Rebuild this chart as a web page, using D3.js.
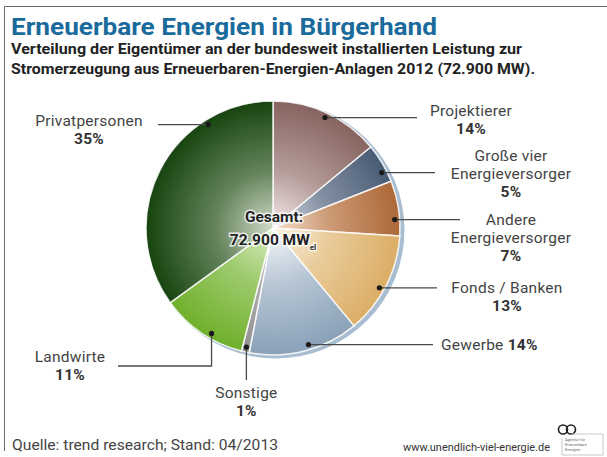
<!DOCTYPE html>
<html>
<head>
<meta charset="utf-8">
<script src="https://cdn.jsdelivr.net/npm/d3@7"></script>
<style>
  body { margin: 0; background: #fff; }
  svg { display: block; font-family: Roboto, "DejaVu Sans", sans-serif; }
</style>
</head>
<body>
<div id="chart"></div>
<script>
// data, clockwise from 12 o'clock
const categories = [`Projektierer`, `Große vier Energieversorger`, `Andere Energieversorger`, `Fonds / Banken`, `Gewerbe`, `Sonstige`, `Landwirte`, `Privatpersonen`];
const shares = [14, 5, 7, 13, 14, 1, 11, 35];
const labelLines = [[`Projektierer`], [`Große vier`, `Energieversorger`], [`Andere`, `Energieversorger`], [`Fonds / Banken`], [`Gewerbe`], [`Sonstige`], [`Landwirte`], [`Privatpersonen`]];
const totalLines = [`Gesamt:`, `72.900 MW`];

const edgeColors = [`#86635f`, `#485b74`, `#ad6838`, `#dcae66`, `#8aa1b8`, `#8f8f8f`, `#70b02c`, `#17440f`];
const centerColors = [`#f6ecec`, `#d4dae4`, `#f6e0cc`, `#fcf4e2`, `#f6f8fb`, `#d8d8d8`, `#dcedc4`, `#d0dcc8`];

const width = 607;
const height = 457;
const cx = 273;
const cy = 228;
const radius = 127;
const rDot = 122;

// where the leader line sits inside each slice (0..1) and where its label goes
const dotFrac = [0.5, 0.7, 0.7, 0.55, 0.45, 0.5, 0.4, 0.746];
const labelLayout = [
  {type: `h`, endX: 417, textX: 471, dy: -2},
  {type: `h`, endX: 435, textX: 511, dy: -12},
  {type: `h`, endX: 460, textX: 511, dy: 5},
  {type: `h`, endX: 437, textX: 507, dy: 5},
  {type: `inline`, endX: 433, textX: 441, dy: 5},
  {type: `down`, endY: 380, dy: 18},
  {type: `elbow`, endY: 366, endX: 118, textX: 70, dy: -4},
  {type: `h`, endX: 158, textX: 89, dy: 1},
];
const lineHeight = 18;

const svg = d3.select(`#chart`).append(`svg`)
  .attr(`width`, width)
  .attr(`height`, height);

// frame
svg.append(`path`)
  .attr(`d`, `M4.5,451 V6.5 H${width}`)
  .attr(`fill`, `none`)
  .attr(`stroke`, `#6a6a6a`)
  .attr(`stroke-width`, 1);

// title + subtitle
const fitText = (sel, w) => sel.attr(`textLength`, w).attr(`lengthAdjust`, `spacingAndGlyphs`);

svg.append(`text`)
  .attr(`x`, 11).attr(`y`, 35)
  .attr(`font-size`, 24).attr(`font-weight`, 700)
  .attr(`fill`, `#1a6b9c`)
  .text(`Erneuerbare Energien in Bürgerhand`)
  .call(fitText, 426);

const subtitle = [`Verteilung der Eigentümer an der bundesweit installierten Leistung zur`, `Stromerzeugung aus Erneuerbaren-Energien-Anlagen 2012 (72.900 MW).`];
const subtitleWidths = [511, 524];
subtitle.forEach((t, i) => {
  svg.append(`text`)
    .attr(`x`, 11).attr(`y`, 54 + i * 19.5)
    .attr(`font-size`, 14.5).attr(`font-weight`, 700)
    .attr(`fill`, `#222`)
    .text(t)
    .call(fitText, subtitleWidths[i]);
});

const defs = svg.append(`defs`);
const g = svg.append(`g`).attr(`transform`, `translate(${cx},${cy})`);

// pale blue rim behind the pie
g.append(`circle`)
  .attr(`cx`, 3).attr(`cy`, 2)
  .attr(`r`, radius + 1.5)
  .attr(`fill`, `#a9bdd1`);

const pie = d3.pie().sort(null).value(d => d);
const arcs = pie(shares);
const arc = d3.arc().innerRadius(0).outerRadius(radius);

arcs.forEach((a, i) => {
  const grad = defs.append(`radialGradient`)
    .attr(`id`, `grad${i}`)
    .attr(`gradientUnits`, `userSpaceOnUse`)
    .attr(`cx`, 0).attr(`cy`, 0).attr(`r`, radius);
  grad.append(`stop`).attr(`offset`, 0).attr(`stop-color`, centerColors[i]);
  grad.append(`stop`).attr(`offset`, 0.45).attr(`stop-color`, d3.interpolateRgb(centerColors[i], edgeColors[i])(0.58));
  grad.append(`stop`).attr(`offset`, 1).attr(`stop-color`, edgeColors[i]);
});

g.selectAll(`path.slice`)
  .data(arcs)
  .enter().append(`path`)
    .attr(`class`, `slice`)
    .attr(`d`, arc)
    .attr(`fill`, (d, i) => `url(#grad${i})`)
    .attr(`stroke`, `rgba(255,255,255,0.85)`)
    .attr(`stroke-width`, 1.5);

// centre text
const centerText = g.append(`text`)
  .attr(`text-anchor`, `middle`)
  .attr(`font-weight`, 700)
  .attr(`font-size`, 15.5)
  .attr(`fill`, `#222`)
  .attr(`stroke`, `rgba(255,255,255,0.8)`)
  .attr(`stroke-width`, 3)
  .attr(`paint-order`, `stroke`);
centerText.append(`tspan`).attr(`x`, 1).attr(`y`, -6).text(totalLines[0]);
centerText.append(`tspan`).attr(`x`, 0).attr(`y`, 17).text(totalLines[1]);
centerText.append(`tspan`).attr(`dy`, 5).attr(`font-size`, 8).text(`el`);

// leader lines, dots and labels
const labels = svg.append(`g`);
arcs.forEach((a, i) => {
  const ang = a.startAngle + (a.endAngle - a.startAngle) * dotFrac[i];
  const dx = cx + rDot * Math.sin(ang);
  const dy = cy - rDot * Math.cos(ang);
  const lay = labelLayout[i];
  let path;
  let tx;
  let ty;
  let anchor = `middle`;
  if (lay.type === `down`) {
    path = `M${dx},${dy} V${lay.endY}`;
    tx = dx;
    ty = lay.endY + lay.dy;
  } else if (lay.type === `elbow`) {
    path = `M${dx},${dy} V${lay.endY} H${lay.endX}`;
    tx = lay.textX;
    ty = lay.endY + lay.dy;
  } else {
    path = `M${dx},${dy} H${lay.endX}`;
    tx = lay.textX;
    ty = dy + lay.dy;
    if (lay.type === `inline`) anchor = `start`;
  }

  labels.append(`path`)
    .attr(`d`, path)
    .attr(`fill`, `none`)
    .attr(`stroke`, `#4a4a4a`)
    .attr(`stroke-width`, 1.3);
  labels.append(`circle`)
    .attr(`cx`, dx).attr(`cy`, dy)
    .attr(`r`, 2.6)
    .attr(`fill`, `#1a1a1a`);

  const t = labels.append(`text`)
    .attr(`text-anchor`, anchor)
    .attr(`font-size`, 15.5)
    .attr(`letter-spacing`, 0.25)
    .attr(`fill`, `#444`);
  labelLines[i].forEach((line, k) => {
    t.append(`tspan`).attr(`x`, tx).attr(`y`, ty + k * lineHeight).text(line);
  });
  if (lay.type === `inline`) {
    t.append(`tspan`).attr(`font-weight`, 700).attr(`fill`, `#333`).text(` ${shares[i]}%`);
  } else {
    t.append(`tspan`)
      .attr(`x`, tx).attr(`y`, ty + labelLines[i].length * lineHeight)
      .attr(`font-weight`, 700).attr(`fill`, `#333`)
      .text(`${shares[i]}%`);
  }
});

// footer
svg.append(`text`)
  .attr(`x`, 12).attr(`y`, 450)
  .attr(`font-size`, 14.5)
  .attr(`fill`, `#444`)
  .text(`Quelle: trend research; Stand: 04/2013`)
  .call(fitText, 266);

svg.append(`text`)
  .attr(`x`, 403).attr(`y`, 451)
  .attr(`font-size`, 11.5)
  .attr(`fill`, `#333`)
  .text(`www.unendlich-viel-energie.de`)
  .call(fitText, 147);

// small agency logo
const logo = svg.append(`g`).attr(`transform`, `translate(558,424)`);
logo.append(`circle`).attr(`cx`, 5).attr(`cy`, 5.5).attr(`r`, 4.5).attr(`fill`, `none`).attr(`stroke`, `#222`).attr(`stroke-width`, 1.6);
logo.append(`circle`).attr(`cx`, 13).attr(`cy`, 5.5).attr(`r`, 4.5).attr(`fill`, `none`).attr(`stroke`, `#222`).attr(`stroke-width`, 1.6);
logo.append(`path`).attr(`d`, `M13,10 H45 V31 H4 V14`).attr(`fill`, `none`).attr(`stroke`, `#bbb`).attr(`stroke-width`, 0.8);
[`Agentur für`, `Erneuerbare`, `Energien`].forEach((s, i) => {
  logo.append(`text`).attr(`x`, 7).attr(`y`, 17 + i * 5).attr(`font-size`, 4).attr(`fill`, `#666`).text(s);
});
</script>
</body>
</html>
